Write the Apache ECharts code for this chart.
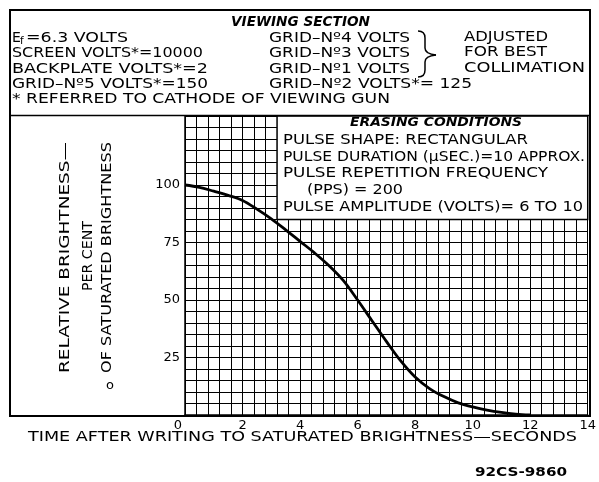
<!DOCTYPE html>
<html><head><meta charset="utf-8">
<script src="https://cdn.jsdelivr.net/npm/echarts@6/dist/echarts.min.js"></script>
<style>html,body{margin:0;padding:0;background:#fff}#c{width:599px;height:482px}</style>
</head><body><div id="c"></div>
<script>
// ---- data ----
const timeSec    = [0, 0.5, 1, 1.5, 2, 2.5, 3, 3.5, 4, 4.5, 5, 5.5, 6, 6.5, 7, 7.5, 8, 8.5, 9, 9.5, 10, 10.5, 11, 11.5, 12];
const brightness = [100, 99, 97.3, 95.5, 93.3, 89.5, 85.3, 80.5, 75.5, 70.5, 65, 58.5, 50, 41, 32, 23.5, 16.5, 11.5, 8, 5.3, 3.5, 2.1, 1.1, 0.4, 0];
const xTickValues = [0, 2, 4, 6, 8, 10, 12, 14];
const yTickValues = [25, 50, 75, 100];
const xTitle = 'TIME AFTER WRITING TO SATURATED BRIGHTNESS\u2014SECONDS';
const yTitleLines = ['RELATIVE BRIGHTNESS\u2014', 'PER CENT', 'OF SATURATED BRIGHTNESS'];
const viewingTitle = 'VIEWING SECTION';
const viewingLeft = ['=6.3 VOLTS', 'SCREEN VOLTS*=10000', 'BACKPLATE VOLTS*=2', 'GRID\u2013N\u00ba5 VOLTS*=150'];
const viewingMid = ['GRID\u2013N\u00ba4 VOLTS', 'GRID\u2013N\u00ba3 VOLTS', 'GRID\u2013N\u00ba1 VOLTS', 'GRID\u2013N\u00ba2 VOLTS*= 125'];
const viewingRight = ['ADJUSTED', 'FOR BEST', 'COLLIMATION'];
const viewingNote = '* REFERRED TO CATHODE OF VIEWING GUN';
const erasingTitle = 'ERASING CONDITIONS';
const erasingLines = ['PULSE SHAPE: RECTANGULAR', 'PULSE DURATION (\u00b5SEC.)=10 APPROX.', 'PULSE REPETITION FREQUENCY', '(PPS) = 200', 'PULSE AMPLITUDE (VOLTS)= 6 TO 10'];
const erasingBox = { x0: 3.2, x1: 14, y0: 85, y1: 130 };
const figureCode = '92CS-9860';

const FF = '"DejaVu Sans", sans-serif';
const chart = echarts.init(document.getElementById('c'), null, { renderer: 'canvas' });
const mctx = document.createElement('canvas').getContext('2d');
function fontStr(size, weight, italic) { return (italic ? 'italic ' : '') + (weight || 'normal') + ' ' + size + 'px ' + FF; }
function measure(t, font) { mctx.font = font; return mctx.measureText(t).width; }

// text stretched horizontally to span [x0, x1]
function fitText(t, x0, x1, y, size, opts) {
  opts = opts || {};
  const font = fontStr(size, opts.weight, opts.italic);
  const w = measure(t, font);
  const sx = (x1 - x0) / w;
  return {
    type: 'text', x: opts.align === 'center' ? (x0 + x1) / 2 : x0, y: y, z: 100, scaleX: sx,
    style: { text: t, fill: '#000', font: font, textAlign: opts.align || 'left', textVerticalAlign: 'middle' }
  };
}
// vertical text (reading bottom to top), centred at cx, spanning [yTop, yBot]
function fitVText(t, cx, yTop, yBot, size) {
  const font = fontStr(size);
  const w = measure(t, font);
  return {
    type: 'text', x: cx, y: (yTop + yBot) / 2, z: 100, rotation: Math.PI / 2, scaleX: (yBot - yTop) / w,
    style: { text: t, fill: '#000', font: font, textAlign: 'center', textVerticalAlign: 'middle' }
  };
}
function seg(x1, y1, x2, y2) {
  return { type: 'line', z: 100, shape: { x1, y1, x2, y2 }, style: { stroke: '#000', lineWidth: 1.5 } };
}
function qc(x1, y1, cx, cy, x2, y2) {
  return { type: 'bezierCurve', z: 100, shape: { x1, y1, x2, y2, cpx1: cx, cpy1: cy }, style: { stroke: '#000', fill: 'none', lineWidth: 1.5 } };
}

const gfx = [];
// outer border and divider
gfx.push({ type: 'rect', z: 100, shape: { x: 10, y: 10, width: 580, height: 406 }, style: { fill: 'none', stroke: '#000', lineWidth: 2 } });
gfx.push(seg(10, 115.5, 590, 115.5));
// viewing section
gfx.push(fitText(viewingTitle, 231, 370, 22, 13.5, { weight: 'bold', italic: true }));
const rowY = [38, 53, 69, 84];
gfx.push({ type: 'text', x: 12, y: rowY[0], z: 100, style: { text: 'E', fill: '#000', font: fontStr(14), textVerticalAlign: 'middle' } });
gfx.push({ type: 'text', x: 20, y: rowY[0] + 3, z: 100, style: { text: 'f', fill: '#000', font: fontStr(10.5), textVerticalAlign: 'middle' } });
gfx.push(fitText(viewingLeft[0], 26, 128, rowY[0], 14));
const leftEnd = [null, 203, 208, 208];
for (let i = 1; i < viewingLeft.length; i++) gfx.push(fitText(viewingLeft[i], 12, leftEnd[i], rowY[i], 14));
const midEnd = [410, 410, 410, 472];
for (let i = 0; i < viewingMid.length; i++) gfx.push(fitText(viewingMid[i], 269, midEnd[i], rowY[i], 14));
const rightEnd = [548, 547, 585];
for (let i = 0; i < viewingRight.length; i++) gfx.push(fitText(viewingRight[i], 464, rightEnd[i], rowY[i] - 1, 14));
gfx.push(fitText(viewingNote, 12, 390, 99, 14));
// brace
gfx.push(qc(418, 31, 425, 31, 425, 38));
gfx.push(seg(425, 38, 425, 48));
gfx.push(qc(425, 48, 425, 54, 436, 55));
gfx.push(qc(436, 55, 425, 56, 425, 62));
gfx.push(seg(425, 62, 425, 70));
gfx.push(qc(425, 70, 425, 77, 418, 77));
// erasing conditions
gfx.push(fitText(erasingTitle, 350, 522, 123, 12.5, { weight: 'bold', italic: true }));
const eY = [140, 157, 173, 190, 207];
const eX0 = [283, 283, 283, 307, 283];
const eX1 = [528, 585, 548, 403, 583];
for (let i = 0; i < erasingLines.length; i++) gfx.push(fitText(erasingLines[i], eX0[i], eX1[i], eY[i], 13.5));
// y title (rotated)
gfx.push(fitVText(yTitleLines[0], 65, 142, 373, 14));
gfx.push(fitVText(yTitleLines[1], 88, 221, 291, 14));
gfx.push(fitVText(yTitleLines[2], 107, 142, 373, 14));
// x title
gfx.push(fitText(xTitle, 28, 577, 437, 14.5));
// stray mark and figure code
gfx.push({ type: 'text', x: 110, y: 386, z: 100, style: { text: 'o', fill: '#000', font: fontStr(13), textAlign: 'center', textVerticalAlign: 'middle' } });
gfx.push(fitText(figureCode, 475, 567, 473, 12, { weight: 'bold' }));

chart.setOption({
  animation: false,
  backgroundColor: '#fff',
  grid: { left: 185, right: 8, top: 116, bottom: 67, containLabel: false },
  xAxis: {
    type: 'value', min: 0, max: 14, interval: 2,
    axisLine: { show: true, lineStyle: { color: '#000', width: 1.5 } },
    axisTick: { show: false },
    axisLabel: { margin: 4, color: '#000', fontFamily: FF, fontSize: 13,
      formatter: v => xTickValues.indexOf(Math.round(v)) >= 0 ? (v === 0 ? '{z|0}' : String(v)) : '',
      rich: { z: { padding: [0, 14, 0, 0], fontFamily: FF, fontSize: 13, color: '#000' } } },
    splitLine: { show: true, lineStyle: { color: '#000', width: 1 } },
    minorTick: { show: false, splitNumber: 5 },
    minorSplitLine: { show: true, lineStyle: { color: '#000', width: 1 } }
  },
  yAxis: {
    type: 'value', min: 0, max: 130, interval: 5,
    axisLine: { show: true, lineStyle: { color: '#000', width: 1.5 } },
    axisTick: { show: false },
    axisLabel: { margin: 5, color: '#000', fontFamily: FF, fontSize: 13,
      formatter: v => yTickValues.indexOf(Math.round(v)) >= 0 ? String(Math.round(v)) : '' },
    splitLine: { show: true, lineStyle: { color: '#000', width: 1 } }
  },
  series: [{
    type: 'line', data: timeSec.map((t, i) => [t, brightness[i]]),
    smooth: 0.35, showSymbol: false,
    lineStyle: { color: '#000', width: 2.8 },
    markArea: {
      silent: true,
      itemStyle: { color: '#fff', borderColor: '#000', borderWidth: 1.5, opacity: 1 },
      data: [[{ coord: [erasingBox.x0, erasingBox.y0] }, { coord: [erasingBox.x1, erasingBox.y1] }]]
    }
  }],
  graphic: gfx
});
</script></body></html>
